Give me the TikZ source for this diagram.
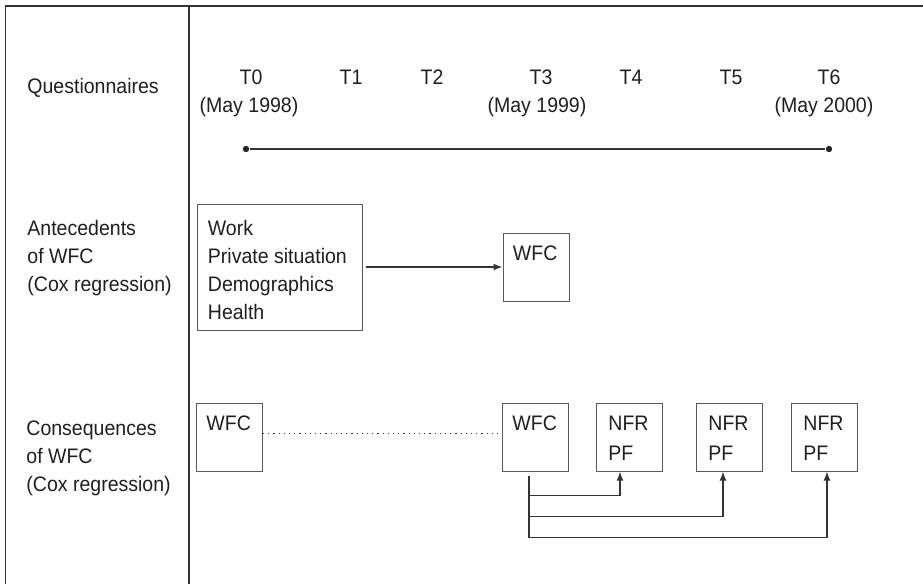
\documentclass[tikz,border=0pt]{standalone}
\usepackage{fontspec}
\setmainfont{Liberation Sans}[FakeStretch=0.93]
\usetikzlibrary{arrows.meta}
\begin{document}
\begin{tikzpicture}[x=0.5pt,y=-0.5pt,
  frame/.style={draw=black!80,line width=0.8pt},
  boxs/.style={draw=black!65,line width=0.5pt,rectangle,inner sep=0pt,minimum width=33pt,minimum height=34pt},
  txt/.style={font=\fontsize{10.5}{14}\selectfont,text=black!88,inner sep=0pt,align=left},
  ctxt/.style={font=\fontsize{10.5}{14}\selectfont,text=black!88,inner sep=0pt},
  conn/.style={draw=black!80,line width=0.6pt},
  arr/.style={conn,-{Latex[length=4.5pt,width=3.4pt]}},
  dot/.style={circle,fill=black!85,inner sep=0pt,minimum size=3.2pt}
]
\useasboundingbox (0,0) rectangle (923,584);
% table frame
\draw[frame] (5.5,584) -- (5.5,6) -- (923,6);
\draw[frame] (189,6) -- (189,584);
% row labels
\node[txt,anchor=north west] (lq) at (27,78) {Questionnaires};
\node[txt,anchor=north west] (la) at (27,220) {Antecedents\\of WFC\\(Cox regression)};
\node[txt,anchor=north west] (lc) at (26,420) {Consequences\\of WFC\\(Cox regression)};
% time points
\node[ctxt,anchor=base] (t0) at (251,84) {T0};
\node[ctxt,anchor=base] (t1) at (351,84) {T1};
\node[ctxt,anchor=base] (t2) at (432,84) {T2};
\node[ctxt,anchor=base] (t3) at (541,84) {T3};
\node[ctxt,anchor=base] (t4) at (631,84) {T4};
\node[ctxt,anchor=base] (t5) at (731,84) {T5};
\node[ctxt,anchor=base] (t6) at (829,84) {T6};
\node[ctxt,anchor=base] (m0) at (249,112) {(May 1998)};
\node[ctxt,anchor=base] (m3) at (537,112) {(May 1999)};
\node[ctxt,anchor=base] (m6) at (824,112) {(May 2000)};
% timeline
\node[dot] (tl0) at (246,149) {};
\node[dot] (tl6) at (829,149) {};
\draw[conn,line width=0.8pt] (tl0) -- (tl6);
% antecedents
\node[boxs,minimum width=82.5pt,minimum height=63pt] (ant) at (279.5,267) {};
\node[txt,anchor=north west] (antT) at ([xshift=5.5pt,yshift=-8pt]ant.north west) {Work\\Private situation\\Demographics\\Health};
\node[boxs] (wfcA) at (536,267) {};
\node[txt,anchor=north west] (wfcAT) at ([xshift=5pt,yshift=-6.5pt]wfcA.north west) {WFC};
\draw[arr,shorten <=1.5pt] (ant.east) -- (wfcA.west);
% consequences
\node[boxs] (wfc1) at (229.5,437) {};
\node[txt,anchor=north west] (wfc1T) at ([xshift=5pt,yshift=-6.5pt]wfc1.north west) {WFC};
\node[boxs] (wfc3) at (535.5,437) {};
\node[txt,anchor=north west] (wfc3T) at ([xshift=5pt,yshift=-6.5pt]wfc3.north west) {WFC};
\node[boxs] (nfr1) at (629.5,437) {};
\node[txt,anchor=north west,font=\fontsize{10.5}{15}\selectfont] (nfr1T) at ([xshift=6pt,yshift=-6.5pt]nfr1.north west) {NFR\\PF};
\node[boxs] (nfr2) at (729.5,437) {};
\node[txt,anchor=north west,font=\fontsize{10.5}{15}\selectfont] (nfr2T) at ([xshift=6pt,yshift=-6.5pt]nfr2.north west) {NFR\\PF};
\node[boxs] (nfr3) at (824.5,437) {};
\node[txt,anchor=north west,font=\fontsize{10.5}{15}\selectfont] (nfr3T) at ([xshift=6pt,yshift=-6.5pt]nfr3.north west) {NFR\\PF};
\draw[conn,dotted,line width=0.5pt] ([yshift=2pt]wfc1.east) -- ([yshift=2pt]wfc3.west);
\draw[conn] ([xshift=-3.25pt,yshift=-2pt]wfc3.south) -- ([xshift=-3.25pt,yshift=-33pt]wfc3.south);
\draw[arr] ([xshift=-3.25pt,yshift=-12pt]wfc3.south) -| ([xshift=-4.75pt]nfr1.south);
\draw[arr] ([xshift=-3.25pt,yshift=-22.5pt]wfc3.south) -| ([xshift=-3.25pt]nfr2.south);
\draw[arr] ([xshift=-3.25pt,yshift=-33pt]wfc3.south) -| ([xshift=1.25pt]nfr3.south);
\end{tikzpicture}
\end{document}
